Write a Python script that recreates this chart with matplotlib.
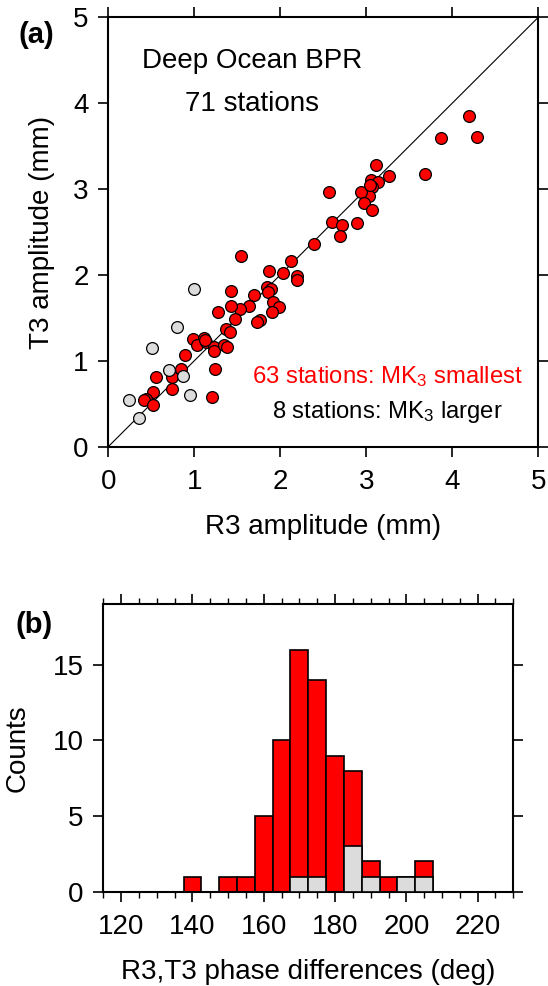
import numpy as np
import matplotlib
matplotlib.use("Agg")
import matplotlib.pyplot as plt
from matplotlib.ticker import MultipleLocator

plt.rcParams['font.family'] = ['Liberation Sans', 'DejaVu Sans']
plt.rcParams['mathtext.fontset'] = 'custom'
plt.rcParams['mathtext.rm'] = 'Liberation Sans'
plt.rcParams['mathtext.default'] = 'regular'

# R3 / T3 amplitudes (mm), stations where MK3 misfit is smallest
r3_small = [4.20, 4.29, 3.87, 3.68, 3.26, 3.11, 3.06, 3.14, 3.07, 3.03,
            2.94, 2.97, 3.07, 2.57, 2.60, 2.72, 2.69, 2.89, 2.39, 2.12,
            1.54, 1.87, 2.03, 2.19, 2.20, 1.84, 1.89, 1.86, 1.43, 1.69,
            1.64, 1.91, 1.99, 1.90, 1.53, 1.43, 1.28, 1.47, 1.76, 1.73,
            1.37, 1.41, 0.99, 1.11, 1.03, 1.14, 1.23, 1.23, 1.35, 1.38,
            0.89, 0.84, 0.74, 0.56, 0.74, 0.52, 1.24, 1.21, 0.44, 0.42,
            0.52, 3.04, 1.12]
t3_small = [3.85, 3.61, 3.59, 3.17, 3.15, 3.28, 3.10, 3.08, 3.02, 2.92,
            2.96, 2.84, 2.76, 2.97, 2.62, 2.58, 2.45, 2.61, 2.36, 2.16,
            2.22, 2.04, 2.02, 1.99, 1.94, 1.86, 1.84, 1.80, 1.81, 1.77,
            1.64, 1.68, 1.63, 1.57, 1.60, 1.64, 1.57, 1.49, 1.48, 1.45,
            1.37, 1.33, 1.25, 1.27, 1.18, 1.22, 1.16, 1.11, 1.18, 1.16,
            1.07, 0.91, 0.81, 0.81, 0.67, 0.64, 0.90, 0.58, 0.56, 0.54,
            0.49, 3.05, 1.24]

# stations where MK3 misfit is larger
r3_large = [1.00, 0.80, 0.51, 0.71, 0.87, 0.95, 0.24, 0.36]
t3_large = [1.84, 1.39, 1.15, 0.89, 0.82, 0.60, 0.54, 0.33]

# phase-difference histogram, 5 deg bins
bin_centers = [140, 145, 150, 155, 160, 165, 170, 175, 180, 185, 190, 195, 200, 205]
counts_all = [1, 0, 1, 1, 5, 10, 16, 14, 9, 8, 2, 1, 1, 2]
counts_large = [0, 0, 0, 0, 0, 0, 1, 1, 0, 3, 1, 0, 1, 1]

red = '#ff0000'
grey = '#dcdcdc'
fs = 20

fig = plt.figure(figsize=(5.48, 9.86), dpi=100)

# ---- (a) amplitude scatter ----
ax = fig.add_axes([0.1976, 0.5470, 0.7847, 0.4355])
ax.plot([0, 5], [0, 5], color='black', lw=0.8, zorder=1)
ax.scatter(r3_small, t3_small, s=72, c=red, edgecolors='black', linewidths=0.9, zorder=2)
ax.scatter(r3_large, t3_large, s=72, c=grey, edgecolors='black', linewidths=0.9, zorder=3)
ax.set_xlim(0, 5)
ax.set_ylim(0, 5)
ax.xaxis.set_major_locator(MultipleLocator(1))
ax.yaxis.set_major_locator(MultipleLocator(1))
ax.tick_params(direction='out', length=7, width=1.2, labelsize=fs, pad=7,
               top=True, right=True)
ax.tick_params(axis='x', pad=9)
for s in ax.spines.values():
    s.set_linewidth(1.5)
ax.set_xlabel('R3 amplitude (mm)', fontsize=fs, labelpad=14)
ax.set_ylabel('T3 amplitude (mm)', fontsize=fs, labelpad=13)

ax.text(1.67, 4.49, 'Deep Ocean BPR', fontsize=20, ha='center', va='center')
ax.text(1.67, 3.99, '71 stations', fontsize=20, ha='center', va='center')
ax.text(3.24, 0.82, r'63 stations: MK$_3$ smallest', fontsize=17.2, color=red,
        ha='center', va='center')
ax.text(3.24, 0.40, r'8 stations: MK$_3$ larger', fontsize=17.2, color='black',
        ha='center', va='center')
fig.text(0.066, 0.964, '(a)', fontsize=21, fontweight='bold', ha='center', va='center')

# ---- (b) phase-difference histogram ----
bx = fig.add_axes([0.1885, 0.0956, 0.7482, 0.2915])
bx.bar(bin_centers, counts_all, width=5, color=red, edgecolor='black', linewidth=1.2, zorder=2)
bx.bar(bin_centers, counts_large, width=5, color=grey, edgecolor='black', linewidth=1.2, zorder=3)
bx.set_xlim(115, 230)
bx.set_ylim(0, 19)
bx.xaxis.set_major_locator(MultipleLocator(20))
bx.xaxis.set_minor_locator(MultipleLocator(5))
bx.yaxis.set_major_locator(MultipleLocator(5))
bx.tick_params(which='major', direction='out', length=7, width=1.2, labelsize=fs, pad=7,
               top=True, right=True)
bx.tick_params(axis='x', which='major', pad=9)
bx.tick_params(which='minor', direction='out', length=4, width=1.0, top=True)
for s in bx.spines.values():
    s.set_linewidth(1.5)
bx.set_xlabel('R3,T3 phase differences (deg)', fontsize=fs, labelpad=14)
bx.set_ylabel('Counts', fontsize=fs, labelpad=16)
fig.text(0.062, 0.366, '(b)', fontsize=21, fontweight='bold', ha='center', va='center')

fig.savefig('out.png', dpi=100)
